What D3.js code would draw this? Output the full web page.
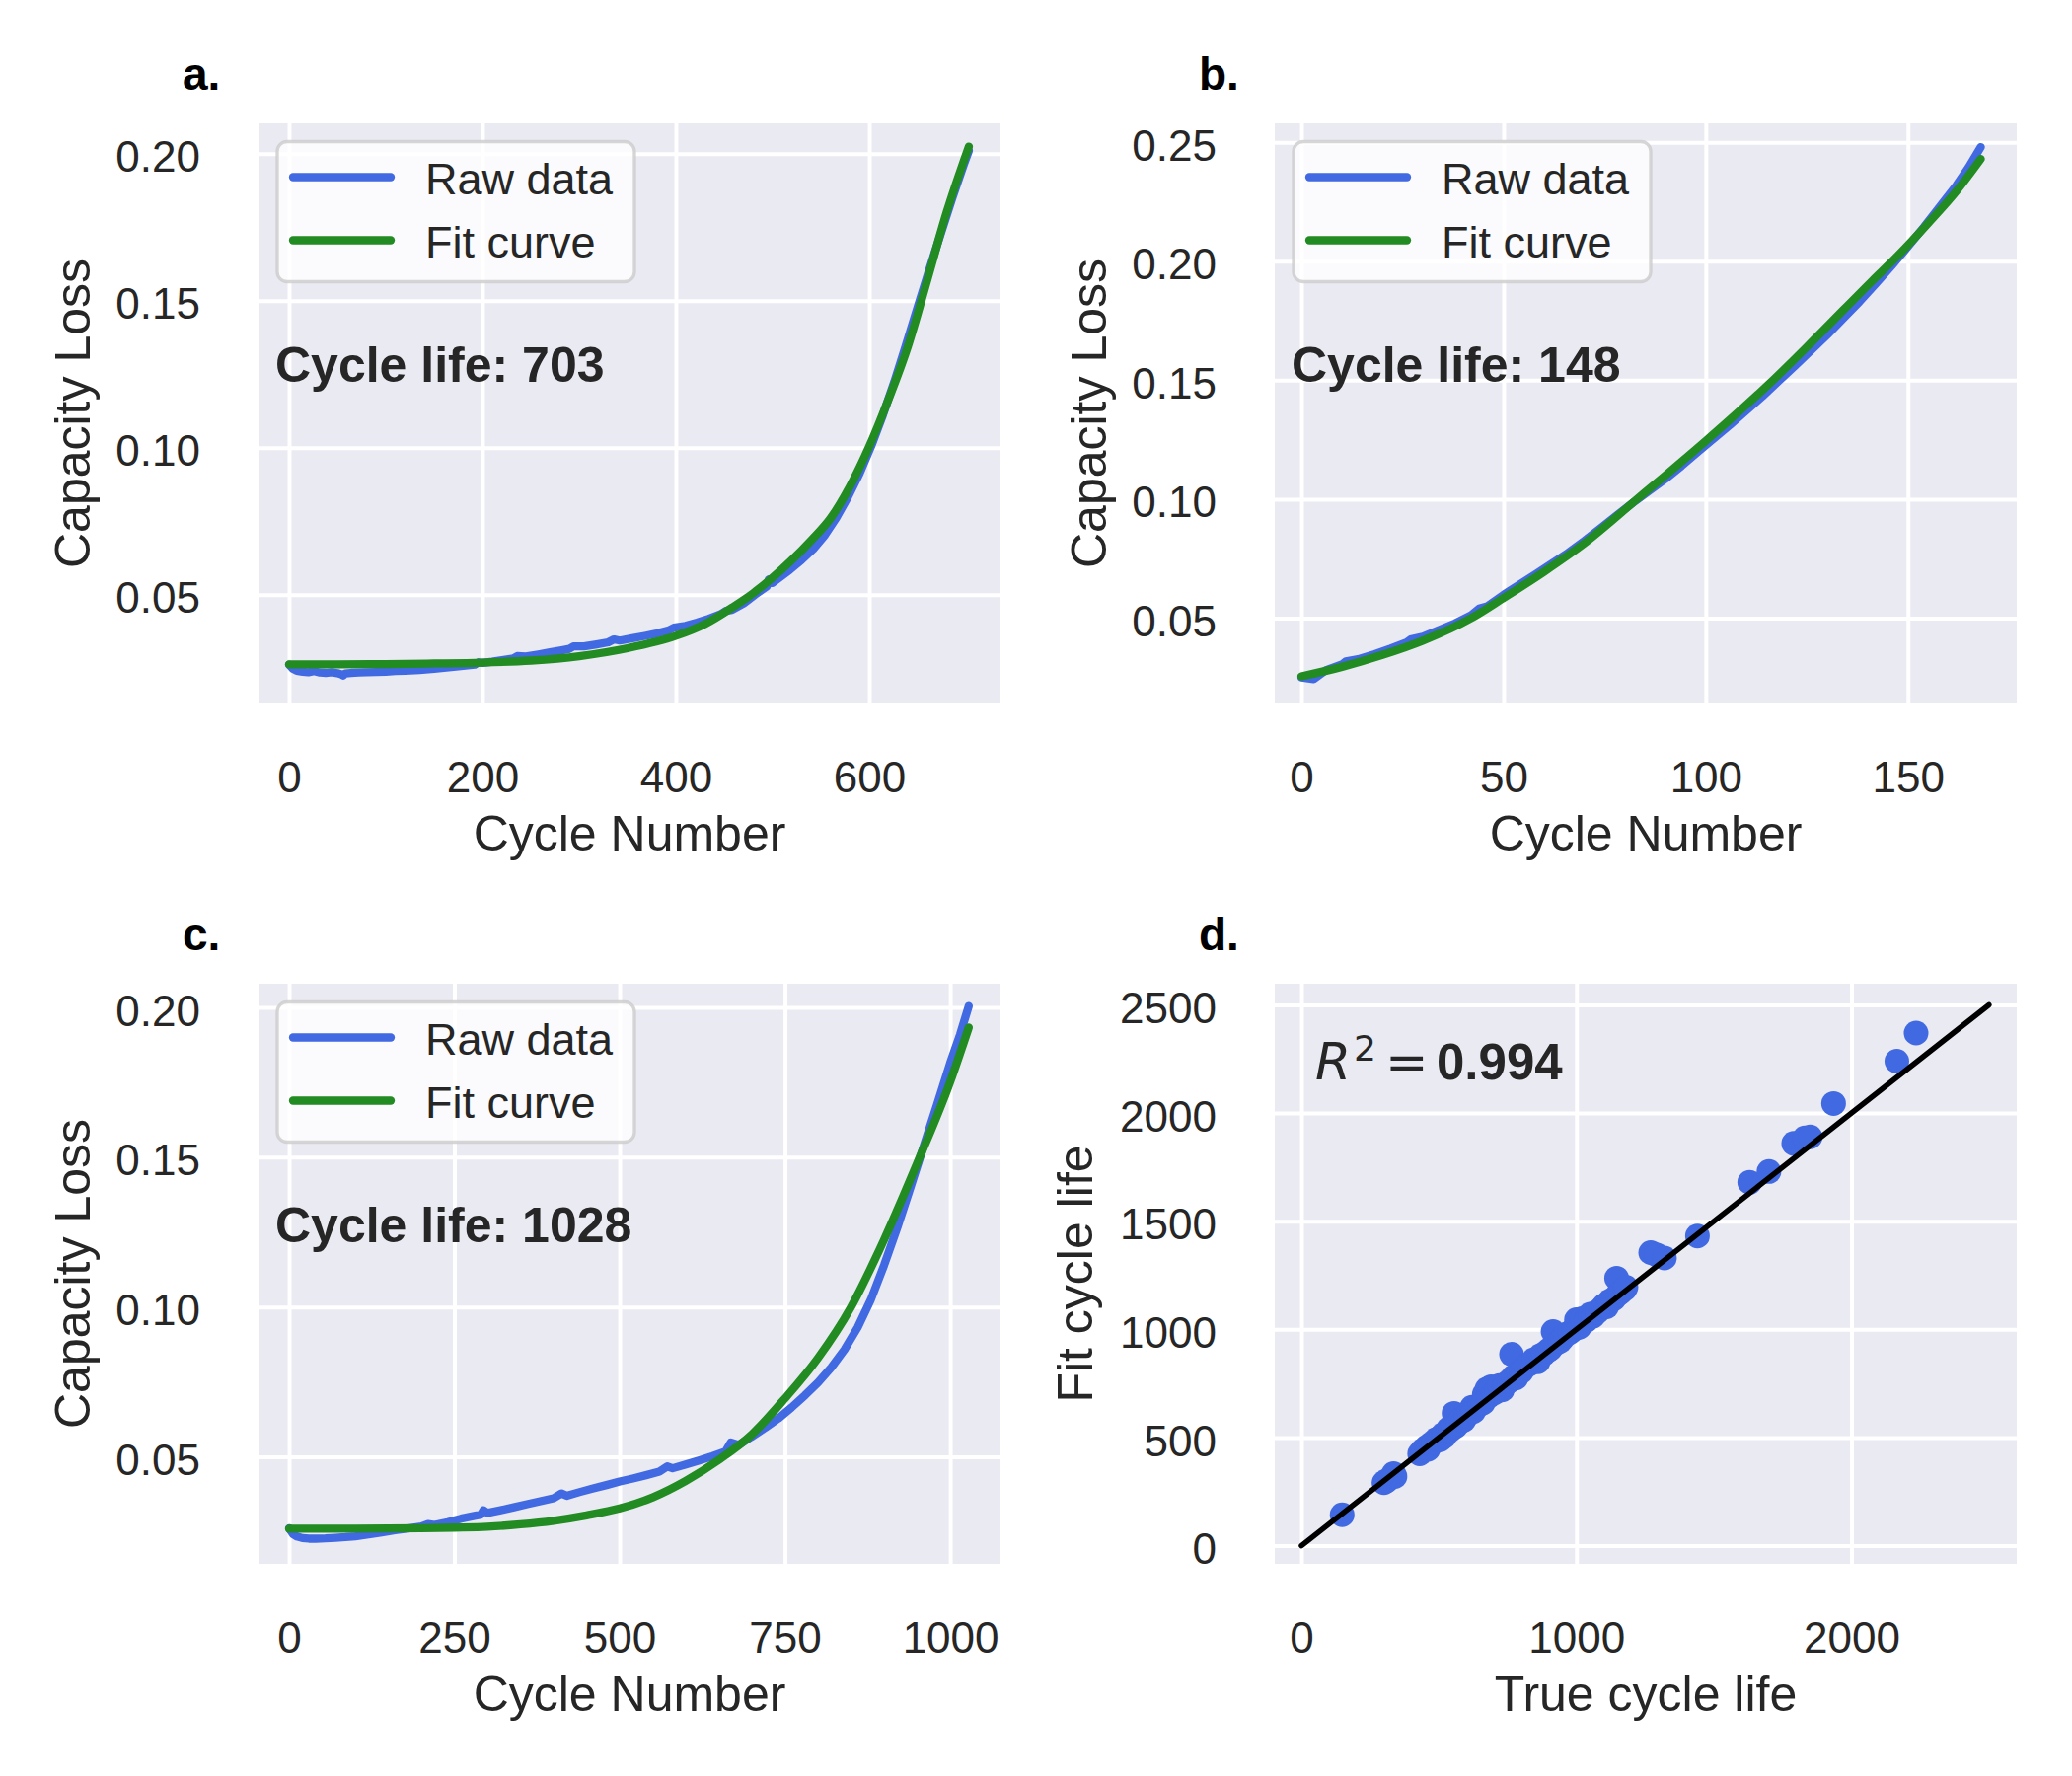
<!DOCTYPE html>
<html><head><meta charset="utf-8">
<script src="https://cdn.jsdelivr.net/npm/d3@7"></script>
<style>body{margin:0;background:#fff}svg{display:block}</style>
</head><body>
<svg id="chart" width="2100" height="1800"></svg>
<script>
// ---------------- DATA ----------------
const panelLabels = ["a.", "b.", "c.", "d."];
const cycleLives = [703, 148, 1028];
const legendLabels = ["Raw data", "Fit curve"];
const r2Value = "0.994";

// Panel a
const rawA_cycle = [0,4,8,14,20,26,32,38,44,50,54,56,58,64,72,80,90,100,110,120,135,150,165,180,192,196,200,210,222,232,236,245,258,270,282,290,294,305,318,330,336,342,355,368,380,392,398,410,422,434,446,452,458,470,482,494,496,500,518,530,542,554,566,578,590,602,614,626,638,650,662,674,686,698,703];
const rawA_loss  = [0.0262,0.0248,0.0241,0.0238,0.0236,0.0240,0.0235,0.0234,0.0236,0.0233,0.0229,0.0225,0.0232,0.0234,0.0235,0.0236,0.0237,0.0238,0.0240,0.0241,0.0244,0.0248,0.0253,0.0258,0.0262,0.0270,0.0268,0.0272,0.0278,0.0283,0.0291,0.0290,0.0297,0.0304,0.0311,0.0316,0.0324,0.0324,0.0331,0.0338,0.0348,0.0344,0.0352,0.0360,0.0368,0.0378,0.0388,0.0394,0.0405,0.0418,0.0433,0.0445,0.0448,0.0470,0.0500,0.0528,0.0552,0.0540,0.0585,0.0618,0.0655,0.0702,0.0762,0.0832,0.0912,0.1005,0.1110,0.1225,0.1350,0.1478,0.1605,0.1728,0.1850,0.1965,0.2010];
const fitA_cycle = [0,50,100,150,200,250,300,350,400,430,460,480,500,520,540,560,580,600,620,640,660,680,703];
const fitA_loss  = [0.0263,0.0263,0.0264,0.0266,0.0269,0.0276,0.0291,0.0318,0.0360,0.0400,0.0460,0.0505,0.0558,0.0618,0.0685,0.0760,0.0868,0.1004,0.1165,0.1345,0.1570,0.1800,0.2024];

// Panel b
const rawB_cycle = [0,3,6,10,11,14,18,22,26,27,30,34,38,42,44,46,50,54,58,62,66,70,74,78,82,86,90,94,98,102,106,110,114,118,122,126,130,134,138,142,146,150,154,158,162,165,168];
const rawB_loss  = [0.0250,0.0243,0.0280,0.0305,0.0318,0.0327,0.0348,0.0372,0.0398,0.0410,0.0422,0.0450,0.0478,0.0512,0.0540,0.0550,0.0598,0.0642,0.0685,0.0730,0.0775,0.0825,0.0878,0.0932,0.0985,0.1035,0.1085,0.1140,0.1198,0.1255,0.1312,0.1372,0.1432,0.1496,0.1560,0.1625,0.1690,0.1760,0.1830,0.1905,0.1982,0.2062,0.2145,0.2232,0.2320,0.2395,0.2480];
const fitB_cycle = [0,10,20,30,42,50,60,70,83,90,100,108,116,125,134,141,147,155,162,168];
const fitB_loss  = [0.0255,0.0295,0.0345,0.0405,0.0500,0.0585,0.0695,0.0815,0.1000,0.1100,0.1245,0.1365,0.1490,0.1640,0.1795,0.1915,0.2015,0.2160,0.2295,0.2430];

// Panel c
const rawC_cycle = [0,6,12,20,30,40,55,70,85,100,120,140,160,180,200,210,220,240,260,280,290,294,300,320,340,360,380,400,412,420,440,460,480,500,520,540,560,572,580,600,620,640,660,668,680,700,720,740,760,780,800,820,840,860,880,900,920,940,960,980,1000,1015,1028];
const rawC_loss  = [0.0262,0.0242,0.0234,0.0229,0.0227,0.0227,0.0228,0.0230,0.0232,0.0235,0.0241,0.0248,0.0255,0.0261,0.0268,0.0276,0.0273,0.0282,0.0294,0.0303,0.0307,0.0322,0.0313,0.0322,0.0332,0.0342,0.0352,0.0362,0.0378,0.0370,0.0383,0.0395,0.0406,0.0418,0.0428,0.0439,0.0451,0.0468,0.0462,0.0475,0.0488,0.0502,0.0518,0.0548,0.0540,0.0568,0.0597,0.0628,0.0665,0.0705,0.0748,0.0798,0.0858,0.0932,0.1025,0.1140,0.1265,0.1400,0.1538,0.1675,0.1815,0.1910,0.2004];
const fitC_cycle = [0,100,200,250,300,350,400,450,500,550,600,650,700,750,800,850,900,950,1000,1028];
const fitC_loss  = [0.0260,0.0260,0.0262,0.0264,0.0267,0.0275,0.0287,0.0305,0.0328,0.0365,0.0420,0.0490,0.0575,0.0695,0.0830,0.1000,0.1225,0.1480,0.1752,0.1933];

// Panel d
const trueLife = [148,300,310,335,340,430,440,455,460,470,480,490,500,505,515,520,530,535,540,550,555,560,570,580,590,600,610,620,625,640,650,660,665,675,680,690,700,710,720,730,740,755,764,770,780,790,800,815,830,845,860,870,880,895,905,915,925,940,950,960,975,990,1000,1010,1020,1035,1050,1060,1075,1090,1100,1110,1120,1135,1146,1150,1160,1175,1180,1270,1290,1320,1440,1630,1700,1790,1830,1850,1935,2165,2235];
const fitLife  = [143,291,300,333,320,425,440,456,445,470,478,492,498,490,515,505,528,540,532,560,612,550,565,585,580,600,615,640,620,645,655,660,700,725,690,735,705,715,740,720,745,760,885,780,775,800,805,830,840,860,850,880,885,900,910,990,935,945,960,975,985,1000,1045,1010,1050,1040,1070,1060,1080,1095,1110,1105,1130,1140,1237,1160,1170,1185,1195,1355,1345,1330,1432,1680,1730,1860,1885,1890,2044,2240,2370];
const identityLine = [0, 2500];

// Tick values
const ticksA_x = [0,200,400,600],  ticksA_y = [0.05,0.10,0.15,0.20];
const ticksB_x = [0,50,100,150],   ticksB_y = [0.05,0.10,0.15,0.20,0.25];
const ticksC_x = [0,250,500,750,1000], ticksC_y = [0.05,0.10,0.15,0.20];
const ticksD_x = [0,1000,2000],    ticksD_y = [0,500,1000,1500,2000,2500];

// ---------------- LAYOUT / STYLE ----------------
const PW = 752, PH = 588;
const FONT = "'Liberation Sans', Arial, sans-serif";
const TXT = "#262626";
const BLUE = "#4169E1", GREEN = "#228B22";

const panels = [
  {left:262,  top:125, xDom:[-31.6,735.7], yDom:[0.0130,0.2103], xt:ticksA_x, yt:ticksA_y, yf:d3.format(".2f"), xl:"Cycle Number", yl:"Capacity Loss", ylx:-171,
   raw:[rawA_cycle,rawA_loss], fit:[fitA_cycle,fitA_loss], life:cycleLives[0], lab:panelLabels[0]},
  {left:1292, top:125, xDom:[-6.6,176.9], yDom:[0.0141,0.2580], xt:ticksB_x, yt:ticksB_y, yf:d3.format(".2f"), xl:"Cycle Number", yl:"Capacity Loss", ylx:-171,
   raw:[rawB_cycle,rawB_loss], fit:[fitB_cycle,fitB_loss], life:cycleLives[1], lab:panelLabels[1]},
  {left:262,  top:997, xDom:[-46.3,1076], yDom:[0.0143,0.2079], xt:ticksC_x, yt:ticksC_y, yf:d3.format(".2f"), xl:"Cycle Number", yl:"Capacity Loss", ylx:-171,
   raw:[rawC_cycle,rawC_loss], fit:[fitC_cycle,fitC_loss], life:cycleLives[2], lab:panelLabels[2]},
  {left:1292, top:997, xDom:[-97,2601], yDom:[-84,2598], xt:ticksD_x, yt:ticksD_y, yf:d3.format("d"), xl:"True cycle life", yl:"Fit cycle life", ylx:-185,
   scatter:true, lab:panelLabels[3]}
];

const svg = d3.select("#chart");
svg.append("rect").attr("width",2100).attr("height",1800).attr("fill","#fff");

panels.forEach((p, i) => {
  const g = svg.append("g").attr("transform", `translate(${p.left},${p.top})`);
  const x = d3.scaleLinear().domain(p.xDom).range([0, PW]);
  const y = d3.scaleLinear().domain(p.yDom).range([PH, 0]);

  g.append("rect").attr("width", PW).attr("height", PH).attr("fill", "#EAEAF2");

  const clipId = "clip" + i;
  g.append("clipPath").attr("id", clipId).append("rect").attr("width", PW).attr("height", PH);

  // axes with gridlines
  const xa = g.append("g").attr("transform", `translate(0,${PH})`)
    .call(d3.axisBottom(x).tickValues(p.xt).tickFormat(d3.format("d")).tickSize(-PH).tickPadding(59));
  const ya = g.append("g")
    .call(d3.axisLeft(y).tickValues(p.yt).tickFormat(p.yf).tickSize(-PW).tickPadding(59));
  [xa, ya].forEach(a => {
    a.select(".domain").remove();
    a.selectAll(".tick line").attr("stroke", "#fff").attr("stroke-width", 4);
    a.selectAll(".tick text").attr("fill", TXT).style("font-family", FONT).style("font-size", "44px");
  });
  ya.selectAll(".tick text").attr("dy", "0.41em");

  // axis labels
  g.append("text").attr("x", PW/2).attr("y", PH + 149).attr("text-anchor", "middle")
    .attr("fill", TXT).style("font-family", FONT).style("font-size", "50px").text(p.xl);
  g.append("text").attr("transform", `translate(${p.ylx},${PH/2}) rotate(-90)`).attr("text-anchor", "middle")
    .attr("fill", TXT).style("font-family", FONT).style("font-size", "50px").text(p.yl);

  // panel letter
  g.append("text").attr("x", -77).attr("y", -34).attr("fill", "#000")
    .style("font-family", FONT).style("font-size", "46px").style("font-weight", "bold").text(p.lab);

  const plot = g.append("g").attr("clip-path", `url(#${clipId})`);

  if (!p.scatter) {
    const mk = (cx, cy) => cx.map((c, k) => [c, cy[k]]);
    const lineLin = d3.line().x(d => x(d[0])).y(d => y(d[1]));
    const lineSm = d3.line().x(d => x(d[0])).y(d => y(d[1])).curve(d3.curveMonotoneX);
    plot.append("path").attr("d", lineLin(mk(p.raw[0], p.raw[1]))).attr("fill", "none")
      .attr("stroke", BLUE).attr("stroke-width", 8.3).attr("stroke-linejoin", "round").attr("stroke-linecap", "round");
    plot.append("path").attr("d", lineSm(mk(p.fit[0], p.fit[1]))).attr("fill", "none")
      .attr("stroke", GREEN).attr("stroke-width", 8.3).attr("stroke-linejoin", "round").attr("stroke-linecap", "round");

    // legend
    const lg = g.append("g").attr("transform", "translate(19,18.5)");
    lg.append("rect").attr("width", 362).attr("height", 142).attr("rx", 10)
      .attr("fill", "#fff").attr("fill-opacity", 0.8)
      .attr("stroke", "#cccccc").attr("stroke-opacity", 0.8).attr("stroke-width", 3.3);
    [BLUE, GREEN].forEach((c, k) => {
      const yy = 36 + k * 64;
      lg.append("line").attr("x1", 16).attr("x2", 115).attr("y1", yy).attr("y2", yy)
        .attr("stroke", c).attr("stroke-width", 8.3).attr("stroke-linecap", "round");
      lg.append("text").attr("x", 150).attr("y", yy + 17).attr("fill", TXT)
        .style("font-family", FONT).style("font-size", "45px").text(legendLabels[k]);
    });

    g.append("text").attr("x", 17).attr("y", 262).attr("fill", TXT)
      .style("font-family", FONT).style("font-size", "50px").style("font-weight", "bold")
      .text("Cycle life: " + p.life);
  } else {
    plot.selectAll("circle").data(trueLife.map((t, k) => [t, fitLife[k]])).join("circle")
      .attr("cx", d => x(d[0])).attr("cy", d => y(d[1])).attr("r", 12.5).attr("fill", BLUE);
    plot.append("line").attr("x1", x(identityLine[0])).attr("y1", y(identityLine[0]))
      .attr("x2", x(identityLine[1])).attr("y2", y(identityLine[1]))
      .attr("stroke", "#000").attr("stroke-width", 5.5).attr("stroke-linecap", "round");

    const t = g.append("g").attr("fill", TXT);
    t.append("text").attr("x", 41).attr("y", 97).style("font-family", "'DejaVu Sans', sans-serif")
      .style("font-size", "52px").style("font-style", "italic").text("R");
    t.append("text").attr("x", 80).attr("y", 78).style("font-family", "'DejaVu Sans', sans-serif")
      .style("font-size", "36px").text("2");
    t.append("text").attr("x", 112).attr("y", 97).style("font-family", "'DejaVu Sans', sans-serif")
      .style("font-size", "52px").text("=");
    t.append("text").attr("x", 164).attr("y", 97).style("font-family", FONT)
      .style("font-size", "51px").style("font-weight", "bold").text(r2Value);
  }
});
</script>
</body></html>
